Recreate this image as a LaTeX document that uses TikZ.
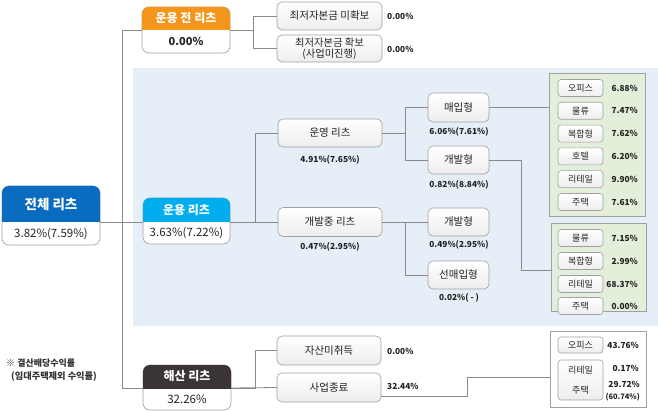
\documentclass[tikz,border=0pt]{standalone}
\usepackage{fontspec}
\setmainfont{Noto Sans CJK KR}
\usetikzlibrary{backgrounds,calc}
\definecolor{hdrblue}{HTML}{0A6CC0}
\definecolor{hdrorange}{HTML}{F5961C}
\definecolor{hdrcyan}{HTML}{00AEEF}
\definecolor{hdrdark}{HTML}{3A3534}
\definecolor{panelblue}{HTML}{E6EFF8}
\definecolor{greenfill}{HTML}{E3EFDA}
\definecolor{linegray}{HTML}{8A8A8A}
\definecolor{boxgray}{HTML}{A0A0A0}
\definecolor{txt}{HTML}{222222}
\tikzset{
  conn/.style={draw=linegray, line width=0.8pt},
  hdrtxt/.style={inner sep=0pt, outer sep=0pt, text=white, font=\fontsize{12}{14}\selectfont\bfseries},
  valtxt/.style={inner sep=0pt, outer sep=0pt, text=txt, font=\fontsize{11.5}{13}\selectfont},
  catbox/.style={draw=boxgray, line width=0.6pt, rounded corners=5pt, top color=white, bottom color=black!7,
    inner sep=0pt, outer sep=0pt, text=txt, font=\fontsize{10.5}{12}\selectfont, align=center},
  itembox/.style={draw=boxgray, line width=0.6pt, rounded corners=3pt, top color=white, bottom color=black!7,
    inner sep=0pt, outer sep=0pt, minimum width=45pt, minimum height=17pt, text=txt, font=\fontsize{9}{10}\selectfont, align=center},
  pct/.style={inner sep=0pt, text=txt, font=\fontsize{8.3}{9.5}\selectfont\bfseries},
  grp/.style={draw=boxgray, line width=0.6pt, inner sep=0pt, outer sep=0pt},
  compbox/.style={fill=white, draw=boxgray, line width=0.6pt, rounded corners=7pt}
}
\begin{document}
\begin{tikzpicture}[x=1pt,y=-1pt]
\useasboundingbox (0,0) rectangle (658,411);

% composite boxes
\node[hdrtxt, font=\fontsize{13.5}{15}\selectfont\bfseries, minimum width=98pt, minimum height=36pt] (toth) at (51,204) {전체 리츠};
\node[valtxt, font=\fontsize{11.5}{13}\selectfont, minimum width=98pt, minimum height=23pt] (totv) at (51,233.5) {3.82\%(7.59\%)};

\node[hdrtxt, minimum width=88pt, minimum height=23pt] (preh) at (186,18.5) {운용 전 리츠};
\node[valtxt, font=\fontsize{11}{13}\selectfont\bfseries, minimum width=88pt, minimum height=23pt] (prev) at (186,41.5) {0.00\%};

\node[hdrtxt, minimum width=87pt, minimum height=24pt] (oph) at (186.5,210) {운용 리츠};
\node[valtxt, minimum width=87pt, minimum height=22pt] (opv) at (186.5,233) {3.63\%(7.22\%)};

\node[hdrtxt, minimum width=88pt, minimum height=23pt] (liqh) at (187,376.5) {해산 리츠};
\node[valtxt, minimum width=88pt, minimum height=22pt] (liqv) at (187,399) {32.26\%};

\begin{scope}[on background layer]
  \fill[panelblue] (133,68) rectangle (658,326);
  \foreach \h/\v/\c in {toth/totv/hdrblue, preh/prev/hdrorange, oph/opv/hdrcyan, liqh/liqv/hdrdark}{
    \path[compbox] (\h.north west) rectangle (\v.south east);
    \begin{scope}
      \clip (\h.north west) rectangle (\h.south east);
      \fill[\c, rounded corners=7pt] (\h.north west) rectangle ([yshift=-12pt]\h.south east);
    \end{scope}
  }
\end{scope}

% category boxes
\node[catbox, minimum width=105pt, minimum height=28pt] (min1) at (329.5,16) {최저자본금 미확보};
\node[catbox, minimum width=105pt, minimum height=27pt, font=\fontsize{10.3}{11}\selectfont] (min2) at (329.5,48.5) {최저자본금 확보\\(사업미진행)};
\node[pct, anchor=west] (min1p) at (387,16) {0.00\%};
\node[pct, anchor=west] (min2p) at (387,49) {0.00\%};

\node[catbox, minimum width=104pt, minimum height=28pt] (opr) at (330,133) {운영 리츠};
\node[pct] (oprp) at (330,160) {4.91\%(7.65\%)};
\node[catbox, minimum width=104pt, minimum height=29pt] (dev) at (330,222) {개발중 리츠};
\node[pct] (devp) at (330,247) {0.47\%(2.95\%)};

\node[catbox, minimum width=61pt, minimum height=29pt] (buy) at (458.5,107.5) {매입형};
\node[pct] (buyp) at (459,132) {6.06\%(7.61\%)};
\node[catbox, minimum width=61pt, minimum height=28pt] (devA) at (458.5,160) {개발형};
\node[pct] (devAp) at (459,185) {0.82\%(8.84\%)};
\node[catbox, minimum width=61pt, minimum height=28pt] (devB) at (458.5,222) {개발형};
\node[pct] (devBp) at (459,245) {0.49\%(2.95\%)};
\node[catbox, minimum width=61pt, minimum height=28pt] (pre2) at (458.5,275) {선매입형};
\node[pct] (pre2p) at (459,298) {0.02\%( - )};

\node[catbox, minimum width=104pt, minimum height=29pt] (noas) at (329,350.5) {자산미취득};
\node[pct, anchor=west] (noasp) at (387,351) {0.00\%};
\node[catbox, minimum width=104pt, minimum height=29pt] (endb) at (329,387.5) {사업종료};
\node[pct, anchor=west] (endp) at (387,386) {32.44\%};

% group boxes
\node[grp, fill=greenfill, minimum width=96pt, minimum height=143pt] (g1) at (597,144.5) {};
\node[grp, fill=greenfill, minimum width=95pt, minimum height=88pt] (g2) at (598.5,267) {};
\node[grp, fill=white, minimum width=96pt, minimum height=76pt] (g3) at (598,369) {};

\foreach \n/\lab/\val/\y in {a1/오피스/6.88/88, a2/물류/7.47/110.8, a3/복합형/7.62/133.6, a4/호텔/6.20/156.4, a5/리테일/9.90/179.2, a6/주택/7.61/202}{
  \node[itembox] (\n) at (580.5,\y) {\lab};
  \node[pct, anchor=east] (\n p) at (638,\y) {\val\%};
}
\foreach \n/\lab/\val/\y in {b1/물류/7.15/238, b2/복합형/2.99/261, b3/리테일/68.37/284, b4/주택/0.00/306}{
  \node[itembox] (\n) at (580.5,\y) {\lab};
  \node[pct, anchor=east] (\n p) at (638,\y) {\val\%};
}
\node[itembox, minimum height=16pt] (c1) at (580.5,345) {오피스};
\node[pct, anchor=east] (c1p) at (639,345) {43.76\%};
\node[itembox, minimum height=40pt, font=\fontsize{9}{20}\selectfont] (c2) at (580.5,380) {리테일\\주택};
\node[pct, anchor=east] (c2p) at (639,368) {0.17\%};
\node[pct, anchor=east, align=right, font=\fontsize{8.3}{12.5}\selectfont\bfseries] (c3p) at (640,391) {29.72\%\\[-1pt]{\fontsize{7.5}{9}\selectfont(60.74\%)}};

% footnote
\node[pct, anchor=west, font=\fontsize{9}{10}\selectfont\bfseries, text=black!80] (fn1) at (6,363) {※ 결산배당수익률};
\node[pct, anchor=west, font=\fontsize{9.2}{10}\selectfont\bfseries, text=black!80] (fn2) at (11,377) {(임대주택제외 수익률)};

% connectors
\draw[conn] (toth.south east) -- (oph.south west);
\draw[conn] (preh.south west) -- ++(-20,0) |- (liqh.south west);
\draw[conn] (preh.south east) -| ([xshift=-24pt]min1.west);
\draw[conn] (min1.west) -- ++(-24,0) |- (min2.west);
\draw[conn] (oph.south east) -- (dev.west);
\draw[conn] (opr.west) -- ++(-23,0) |- (dev.west);
\draw[conn] (opr.east) -- ++(23,0);
\draw[conn] (buy.west) -- ++(-23,0) |- (devA.west);
\draw[conn] (dev.east) -- (devB.west);
\draw[conn] (devB.west) -- ++(-23,0) |- (pre2.west);
\draw[conn] (buy.east) -- (buy.east -| g1.west);
\draw[conn] (devA.east) -- ++(32,0) |- ([yshift=-3pt]g2.west);
\draw[conn] (liqh.south east) -- (endb.west);
\draw[conn] (liqh.south east) -- ++(24,0) |- (noas.west);
\draw[conn] ([yshift=-8.5pt]endb.east) -- ++(86,0) |- ([yshift=-8pt]g3.west);
\end{tikzpicture}
\end{document}
